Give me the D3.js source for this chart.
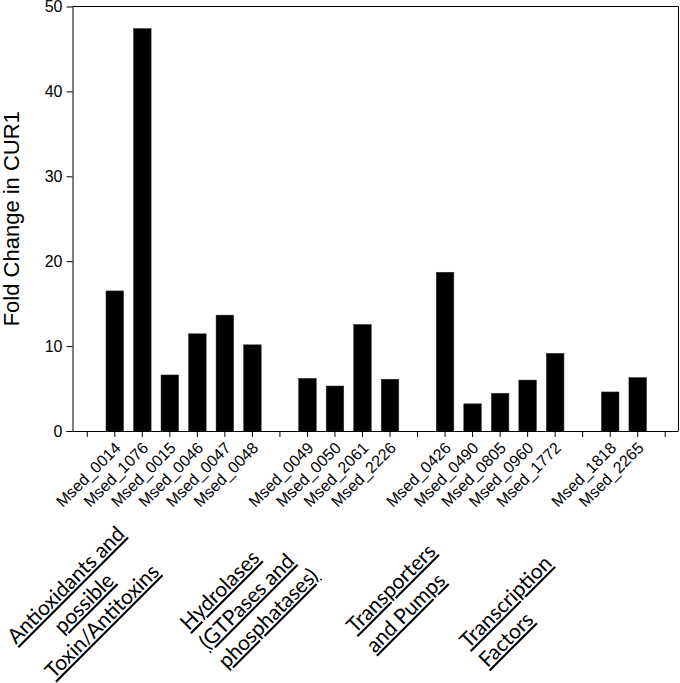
<!DOCTYPE html>
<html>
<head>
<meta charset="utf-8">
<script src="https://cdn.jsdelivr.net/npm/d3@7"></script>
<style>
  html, body { margin: 0; padding: 0; background: #fff; }
  svg { display: block; }
</style>
</head>
<body>
<svg id="chart" width="680" height="683"></svg>
<script>
// ---------- DATA ----------
// Slots along the category axis (gaps between functional groups are empty slots)
const categories = [
  "gap0",
  "Msed_0014", "Msed_1076", "Msed_0015", "Msed_0046", "Msed_0047", "Msed_0048",
  "gap1",
  "Msed_0049", "Msed_0050", "Msed_2061", "Msed_2226",
  "gap2",
  "Msed_0426", "Msed_0490", "Msed_0805", "Msed_0960", "Msed_1772",
  "gap3",
  "Msed_1818", "Msed_2265",
  "gap4"
];
const genes = [
  "Msed_0014", "Msed_1076", "Msed_0015", "Msed_0046", "Msed_0047", "Msed_0048",
  "Msed_0049", "Msed_0050", "Msed_2061", "Msed_2226",
  "Msed_0426", "Msed_0490", "Msed_0805", "Msed_0960", "Msed_1772",
  "Msed_1818", "Msed_2265"
];
const foldChange = [
  16.5, 47.4, 6.6, 11.45, 13.65, 10.15,
  6.2, 5.3, 12.55, 6.1,
  18.7, 3.2, 4.45, 6.0, 9.15,
  4.6, 6.3
];
const yTicks = [0, 10, 20, 30, 40, 50];
const yLabel = "Fold Change in CUR1";
const groupNames = [
  ["Antioxidants and", "possible", "Toxin/Antitoxins"],
  ["Hydrolases", "(GTPases and", "phosphatases)"],
  ["Transporters", "and Pumps"],
  ["Transcription", "Factors"]
];
const groupFirstGene = ["Msed_0014", "Msed_0049", "Msed_0426", "Msed_1818"];

// ---------- LAYOUT ----------
const plot = { left: 72.5, right: 678.5, top: 6.5, bottom: 431 };
// group label placement relative to first gene of each group
const groupLayout = [
  { dx: -49,  y: 585, anchor: "middle", lh: 25.5 },
  { dx: -124, y: 626, anchor: "start",  lh: 27 },
  { dx: -95,  y: 629, anchor: "start",  lh: 27.5 },
  { dx: -147, y: 644, anchor: "start",  lh: 27 }
];

const svg = d3.select("#chart");

const x = d3.scaleBand()
  .domain(categories)
  .range([73.5, 679])
  .paddingInner(0.36)
  .paddingOuter(0.18);

const y = d3.scaleLinear()
  .domain([0, 50])
  .range([plot.bottom, plot.top]);

// frame (top and right lines)
svg.append("path")
  .attr("d", `M${plot.left},${plot.top}H${plot.right}V${plot.bottom}`)
  .attr("fill", "none")
  .attr("stroke", "#000")
  .attr("stroke-width", 1);

// bars
svg.append("g")
  .selectAll("rect")
  .data(genes.map((g, i) => ({ g, v: foldChange[i] })))
  .join("rect")
  .attr("x", d => x(d.g))
  .attr("width", x.bandwidth())
  .attr("y", d => y(d.v))
  .attr("height", d => y(0) - y(d.v))
  .attr("fill", "#000")
  .attr("stroke", "#333")
  .attr("stroke-width", 0.5);

// y axis
const yAxis = svg.append("g")
  .attr("transform", `translate(${plot.left},0)`)
  .call(d3.axisLeft(y).tickValues(yTicks).tickSize(6).tickSizeOuter(0).tickPadding(4));
yAxis.select(".domain").attr("stroke", "#000");
yAxis.selectAll("text")
  .attr("font-family", "Liberation Sans, Arial, sans-serif")
  .attr("font-size", 16)
  .attr("fill", "#000");

// x axis
const xAxis = svg.append("g")
  .attr("transform", `translate(0,${plot.bottom})`)
  .call(d3.axisBottom(x).tickSize(6).tickSizeOuter(0).tickFormat(d => d.startsWith("gap") ? "" : d));
xAxis.select(".domain").attr("d", `M${plot.left - 6},0.5H${plot.right}`).attr("stroke", "#000");
xAxis.selectAll("text")
  .attr("font-family", "Liberation Sans, Arial, sans-serif")
  .attr("font-size", 16)
  .attr("fill", "#000")
  .attr("text-anchor", "end")
  .attr("dy", null)
  .attr("y", null)
  .attr("dominant-baseline", "middle")
  .attr("transform", "translate(4,15) rotate(-45)");

// y label
svg.append("text")
  .attr("transform", `translate(19,${(plot.top + plot.bottom) / 2}) rotate(-90)`)
  .attr("text-anchor", "middle")
  .attr("font-family", "Liberation Sans, Arial, sans-serif")
  .attr("font-size", 22)
  .attr("fill", "#000")
  .text(yLabel);

// group labels
const gl = svg.append("g");
groupNames.forEach((lines, gi) => {
  const L = groupLayout[gi];
  const cx0 = x(groupFirstGene[gi]) + x.bandwidth() / 2 + L.dx;
  lines.forEach((t, k) => {
    const off = k * L.lh / Math.SQRT2;
    gl.append("text")
      .attr("transform", `translate(${cx0 + off},${L.y + off}) rotate(-45)`)
      .attr("text-anchor", L.anchor)
      .attr("dy", "0.35em")
      .attr("font-family", "Lato, Carlito, sans-serif")
      .attr("font-size", 21)
      .attr("fill", "#000")
      .style("text-decoration", "underline")
      .text(t);
  });
});
</script>
</body>
</html>
